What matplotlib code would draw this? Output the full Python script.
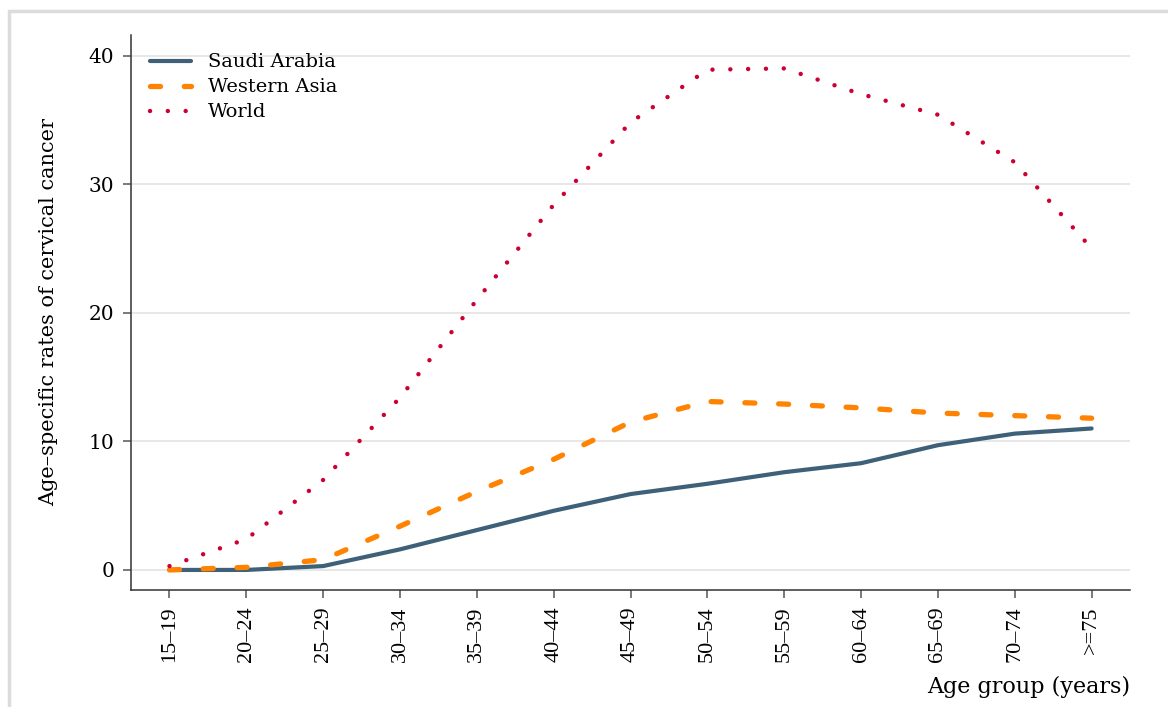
import matplotlib
matplotlib.use("Agg")
import matplotlib.pyplot as plt
from matplotlib.patches import Rectangle

# age groups and age-specific rates (per 100,000)
age_groups = ["15\u201319", "20\u201324", "25\u201329", "30\u201334", "35\u201339", "40\u201344",
              "45\u201349", "50\u201354", "55\u201359", "60\u201364", "65\u201369", "70\u201374", ">=75"]
saudi = [0.0, 0.0, 0.3, 1.6, 3.1, 4.6, 5.9, 6.7, 7.6, 8.3, 9.7, 10.6, 11.0]
western_asia = [0.0, 0.2, 0.8, 3.4, 6.1, 8.6, 11.5, 13.1, 12.9, 12.6, 12.2, 12.0, 11.8]
world = [0.3, 2.4, 7.0, 13.4, 21.0, 28.4, 34.8, 38.9, 39.0, 37.0, 35.4, 31.7, 25.0]
yticks = [0, 10, 20, 30, 40]

fig = plt.figure(figsize=(11.68, 7.07), dpi=100)
ax = fig.add_axes([0.1122, 0.1655, 0.8553, 0.785])

# grey frame of the screenshot
fig.patches.append(Rectangle((9 / 1168, -0.1), 1.2, 1 - 11 / 707 + 0.1, transform=fig.transFigure,
                             fill=False, edgecolor="#dcdcdc", linewidth=2.5, zorder=0))

x = list(range(len(age_groups)))
ax.plot(x, saudi, color="#3e6078", lw=3.0, label="Saudi Arabia", solid_capstyle="round", zorder=3)
ax.plot(x, western_asia, color="#ff8300", lw=3.8, dashes=(1.9, 4.5), dash_capstyle="round",
        label="Western Asia", zorder=3)
ax.plot(x, world, color="#cc0033", lw=3.2, dashes=(0.01, 4.0), dash_capstyle="round",
        label="World", zorder=3)

ax.set_xlim(-0.5, 12.5)
ax.set_ylim(-1.56, 41.6)
ax.set_xticks(x)
ax.set_xticklabels(age_groups, rotation=90, family="Liberation Serif", fontsize=16)
ax.set_yticks(yticks)
ax.set_yticklabels([str(v) for v in yticks], family="DejaVu Serif", fontsize=14.5)
ax.grid(axis="y", color="#e3e3e3", lw=1.2, zorder=0)
ax.set_axisbelow(True)
ax.tick_params(direction="out", length=6, width=1.1, color="#555555", pad=6)
for s in ["top", "right"]:
    ax.spines[s].set_visible(False)
for s in ["left", "bottom"]:
    ax.spines[s].set_color("#333333")
    ax.spines[s].set_linewidth(1.1)

ax.set_ylabel("Age\u2013specific rates of cervical cancer", family="DejaVu Serif", fontsize=15, labelpad=22)
ax.set_xlabel("Age group (years)", family="DejaVu Serif", fontsize=16, loc="right", labelpad=10)

ax.legend(loc="upper left", frameon=False, prop={"family": "DejaVu Serif", "size": 14},
          handlelength=2.15, handletextpad=0.85, labelspacing=0.36, borderaxespad=0.55,
          bbox_to_anchor=(0.0, 1.0))

fig.savefig("out.png", dpi=100)
